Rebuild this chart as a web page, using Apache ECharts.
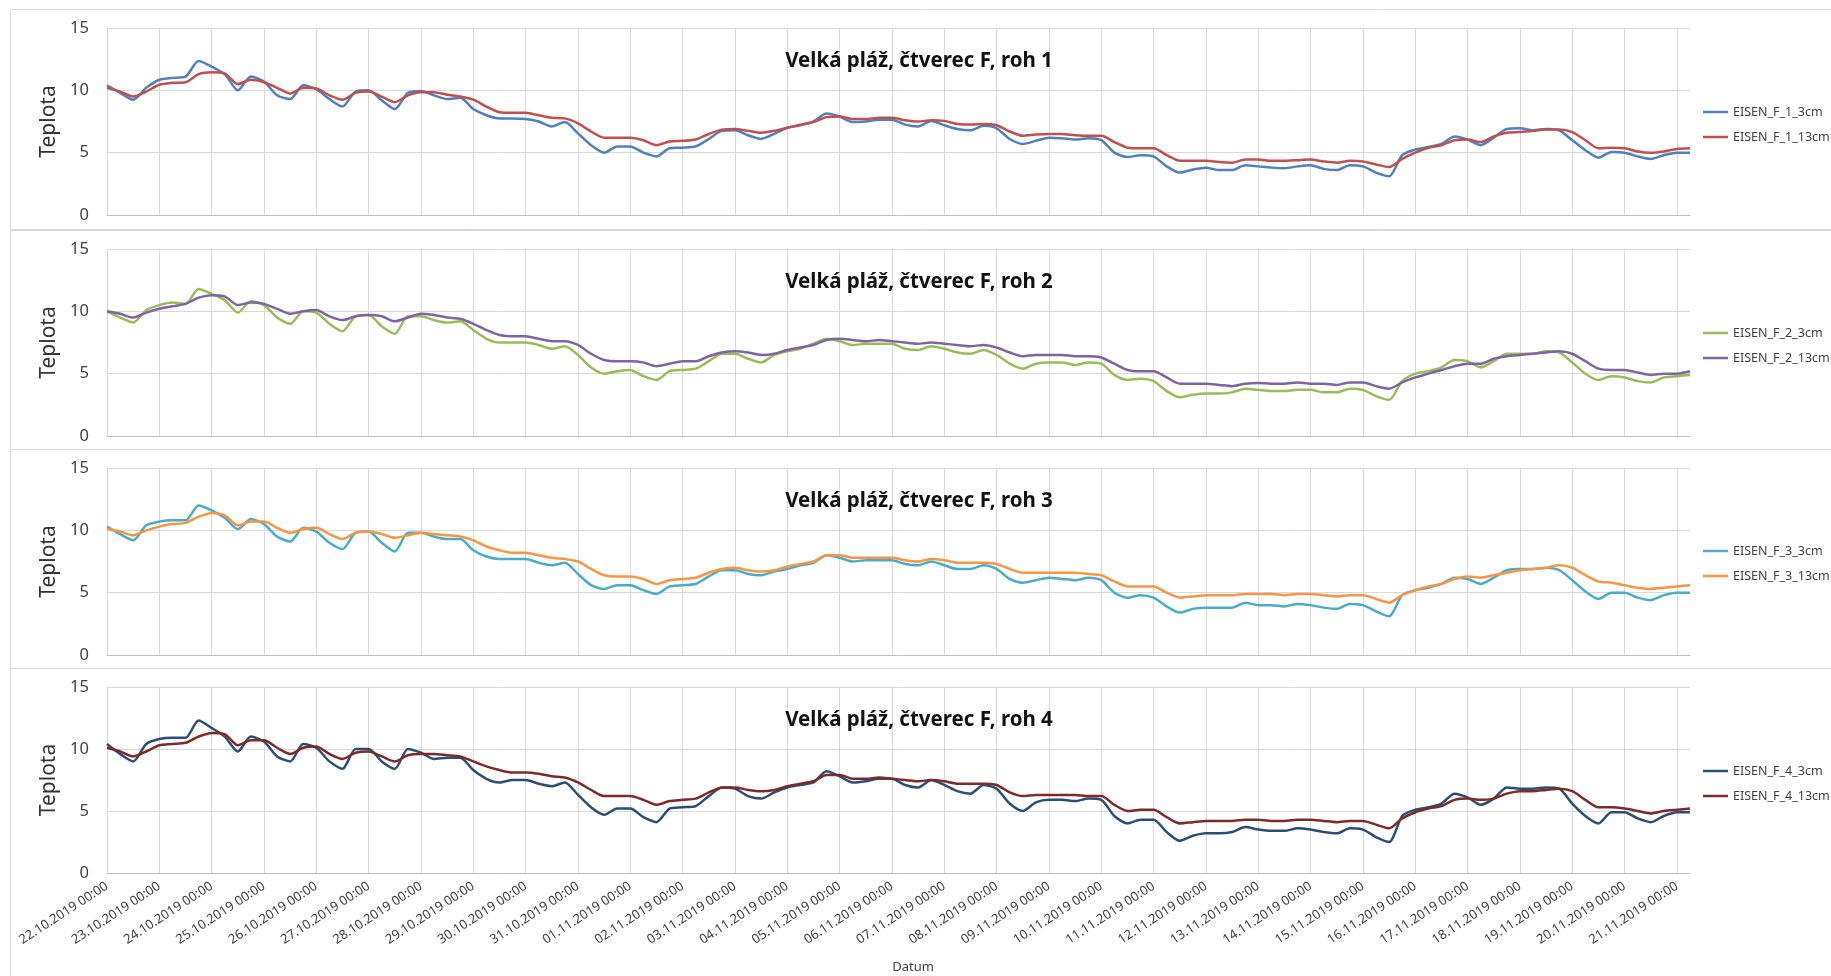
<!DOCTYPE html>
<html>
<head>
<meta charset="utf-8">
<title>Velká pláž, čtverec F</title>
<script src="https://cdn.jsdelivr.net/npm/echarts@6/dist/echarts.min.js"></script>
<style>
  html, body { margin: 0; padding: 0; background: #fff; }
  #chart { width: 1831px; height: 976px; }
</style>
</head>
<body>
<div id="chart"></div>
<script>
// one tick per day, samples every 6 hours (0.25 day)
const dayLabels = [
  '22.10.2019 00:00', '23.10.2019 00:00', '24.10.2019 00:00', '25.10.2019 00:00',
  '26.10.2019 00:00', '27.10.2019 00:00', '28.10.2019 00:00', '29.10.2019 00:00',
  '30.10.2019 00:00', '31.10.2019 00:00', '01.11.2019 00:00', '02.11.2019 00:00',
  '03.11.2019 00:00', '04.11.2019 00:00', '05.11.2019 00:00', '06.11.2019 00:00',
  '07.11.2019 00:00', '08.11.2019 00:00', '09.11.2019 00:00', '10.11.2019 00:00',
  '11.11.2019 00:00', '12.11.2019 00:00', '13.11.2019 00:00', '14.11.2019 00:00',
  '15.11.2019 00:00', '16.11.2019 00:00', '17.11.2019 00:00', '18.11.2019 00:00',
  '19.11.2019 00:00', '20.11.2019 00:00', '21.11.2019 00:00'
];
const stepDays = 0.25;

const f1_3cm = [
  10.4, 9.8, 9.25, 10.2,  10.85, 11.0, 11.1, 12.35,  11.9, 11.3, 10.0, 11.1,  10.7, 9.6, 9.3, 10.4,
  10.1, 9.3, 8.7, 9.9,  10.0, 9.2, 8.5, 9.8,  9.95, 9.6, 9.3, 9.4,  8.5, 8.0, 7.75, 7.75,
  7.7, 7.5, 7.1, 7.45,  6.55, 5.6, 5.0, 5.5,  5.5, 5.0, 4.7, 5.35,  5.4, 5.5, 6.1, 6.75,
  6.8, 6.4, 6.1, 6.5,  7.0, 7.2, 7.5, 8.15,  7.9, 7.45, 7.5, 7.65,  7.65, 7.25, 7.1, 7.55,
  7.2, 6.9, 6.8, 7.15,  6.95, 6.1, 5.7, 5.95,  6.2, 6.15, 6.05, 6.15,  6.0, 5.0, 4.65, 4.8,
  4.7, 3.9, 3.4, 3.65,  3.8, 3.6, 3.6, 4.0,  3.9, 3.8, 3.75, 3.9,  4.0, 3.7, 3.6, 4.0,
  3.9, 3.4, 3.1, 4.8,  5.25, 5.45, 5.7, 6.3,  6.05, 5.6, 6.2, 6.9,  6.95, 6.8, 6.9, 6.8,
  6.0, 5.2, 4.6, 5.05,  5.0, 4.7, 4.5, 4.8,  5.0, 5.0
];
const f1_13cm = [
  10.2, 9.9, 9.5, 9.9,  10.45, 10.6, 10.65, 11.3,  11.45, 11.35, 10.5, 10.85,  10.65, 10.2, 9.75, 10.2,
  10.15, 9.6, 9.25, 9.8,  9.9, 9.5, 9.05, 9.6,  9.85, 9.85, 9.65, 9.5,  9.25, 8.7, 8.25, 8.2,
  8.2, 8.0, 7.8, 7.75,  7.35, 6.7, 6.2, 6.2,  6.2, 6.0, 5.6, 5.9,  5.95, 6.05, 6.5, 6.85,
  6.9, 6.75, 6.6, 6.75,  7.0, 7.25, 7.45, 7.85,  7.9, 7.7, 7.7, 7.8,  7.8, 7.6, 7.5, 7.6,
  7.55, 7.3, 7.25, 7.3,  7.2, 6.7, 6.35, 6.45,  6.5, 6.5, 6.4, 6.35,  6.35, 5.85, 5.4, 5.35,
  5.35, 4.8, 4.35, 4.35,  4.35, 4.25, 4.2, 4.45,  4.45, 4.35, 4.35, 4.4,  4.45, 4.3, 4.2, 4.35,
  4.3, 4.05, 3.85, 4.5,  5.0, 5.4, 5.6, 6.0,  6.05, 5.85, 6.3, 6.6,  6.65, 6.75, 6.85, 6.85,
  6.65, 6.0, 5.35, 5.4,  5.35, 5.1, 5.0, 5.1,  5.3, 5.35
];
const f2_3cm = [
  10.0, 9.5, 9.1, 10.1,  10.5, 10.7, 10.6, 11.8,  11.4, 10.9, 9.9, 10.8,  10.5, 9.5, 9.0, 10.0,
  9.9, 9.0, 8.4, 9.6,  9.7, 8.8, 8.2, 9.6,  9.6, 9.3, 9.1, 9.2,  8.5, 7.8, 7.5, 7.5,
  7.5, 7.3, 7.0, 7.2,  6.5, 5.5, 5.0, 5.2,  5.3, 4.8, 4.5, 5.2,  5.3, 5.4, 6.0, 6.6,
  6.6, 6.2, 5.9, 6.5,  6.8, 7.0, 7.4, 7.8,  7.6, 7.3, 7.4, 7.4,  7.4, 7.0, 6.9, 7.2,
  7.0, 6.7, 6.6, 6.9,  6.5, 5.8, 5.4, 5.8,  5.9, 5.9, 5.7, 5.9,  5.8, 4.9, 4.5, 4.6,
  4.4, 3.6, 3.1, 3.3,  3.4, 3.4, 3.5, 3.8,  3.7, 3.6, 3.6, 3.7,  3.7, 3.5, 3.5, 3.8,
  3.7, 3.2, 2.9, 4.4,  5.0, 5.2, 5.5, 6.1,  6.0, 5.5, 6.0, 6.6,  6.6, 6.6, 6.8, 6.7,
  5.9, 5.0, 4.5, 4.8,  4.7, 4.4, 4.3, 4.7,  4.8, 4.9
];
const f2_13cm = [
  10.0, 9.8, 9.5, 9.9,  10.2, 10.4, 10.6, 11.1,  11.3, 11.2, 10.5, 10.7,  10.6, 10.2, 9.8, 10.0,
  10.1, 9.6, 9.3, 9.6,  9.7, 9.6, 9.2, 9.5,  9.8, 9.7, 9.5, 9.4,  9.0, 8.5, 8.1, 8.0,
  8.0, 7.8, 7.6, 7.6,  7.3, 6.6, 6.1, 6.0,  6.0, 5.9, 5.6, 5.8,  6.0, 6.0, 6.4, 6.7,
  6.8, 6.7, 6.5, 6.6,  6.9, 7.1, 7.3, 7.7,  7.8, 7.7, 7.6, 7.7,  7.6, 7.5, 7.4, 7.5,
  7.4, 7.3, 7.2, 7.3,  7.1, 6.7, 6.4, 6.5,  6.5, 6.5, 6.4, 6.4,  6.3, 5.8, 5.3, 5.2,
  5.2, 4.7, 4.2, 4.2,  4.2, 4.1, 4.0, 4.2,  4.25, 4.2, 4.2, 4.3,  4.2, 4.2, 4.1, 4.3,
  4.3, 4.0, 3.8, 4.3,  4.7, 5.0, 5.3, 5.6,  5.8, 5.8, 6.2, 6.4,  6.5, 6.6, 6.7, 6.8,
  6.6, 6.0, 5.4, 5.3,  5.3, 5.1, 4.9, 5.0,  5.0, 5.2
];
const f3_3cm = [
  10.3, 9.7, 9.2, 10.4,  10.7, 10.8, 10.8, 12.0,  11.6, 11.0, 10.1, 10.9,  10.5, 9.5, 9.1, 10.2,
  9.9, 9.0, 8.5, 9.8,  9.9, 9.0, 8.3, 9.8,  9.8, 9.5, 9.3, 9.3,  8.4, 7.9, 7.7, 7.7,
  7.7, 7.4, 7.2, 7.4,  6.5, 5.6, 5.3, 5.6,  5.6, 5.2, 4.9, 5.5,  5.6, 5.7, 6.3, 6.8,
  6.8, 6.5, 6.4, 6.7,  6.9, 7.2, 7.4, 8.0,  7.8, 7.5, 7.6, 7.6,  7.6, 7.3, 7.2, 7.5,
  7.2, 6.9, 6.9, 7.2,  6.9, 6.1, 5.8, 6.0,  6.2, 6.1, 6.0, 6.2,  6.0, 5.0, 4.6, 4.8,
  4.6, 3.9, 3.4, 3.7,  3.8, 3.8, 3.8, 4.2,  4.0, 4.0, 3.9, 4.1,  4.0, 3.8, 3.7, 4.1,
  4.0, 3.5, 3.1, 4.8,  5.2, 5.4, 5.7, 6.2,  6.1, 5.7, 6.2, 6.8,  6.9, 6.9, 7.0, 6.8,
  6.0, 5.1, 4.5, 5.0,  5.0, 4.6, 4.4, 4.8,  5.0, 5.0
];
const f3_13cm = [
  10.1, 9.9, 9.6, 10.0,  10.3, 10.5, 10.6, 11.1,  11.4, 11.2, 10.4, 10.7,  10.7, 10.2, 9.8, 10.1,
  10.2, 9.7, 9.3, 9.8,  9.9, 9.7, 9.4, 9.6,  9.8, 9.7, 9.6, 9.5,  9.2, 8.7, 8.4, 8.2,
  8.2, 8.0, 7.8, 7.7,  7.5, 6.9, 6.4, 6.3,  6.3, 6.1, 5.7, 6.0,  6.1, 6.2, 6.6, 6.9,
  7.0, 6.8, 6.7, 6.8,  7.1, 7.3, 7.5, 8.0,  8.0, 7.8, 7.8, 7.8,  7.8, 7.6, 7.5, 7.7,
  7.6, 7.4, 7.4, 7.4,  7.3, 6.9, 6.6, 6.6,  6.6, 6.6, 6.6, 6.5,  6.4, 5.9, 5.5, 5.5,
  5.5, 5.0, 4.6, 4.7,  4.8, 4.8, 4.8, 4.9,  4.9, 4.9, 4.8, 4.9,  4.9, 4.8, 4.7, 4.8,
  4.8, 4.5, 4.2, 4.8,  5.2, 5.5, 5.7, 6.1,  6.3, 6.2, 6.4, 6.6,  6.8, 6.9, 7.0, 7.2,
  7.0, 6.4, 5.9, 5.8,  5.6, 5.4, 5.3, 5.4,  5.5, 5.6
];
const f4_3cm = [
  10.4, 9.6, 9.0, 10.4,  10.8, 10.9, 10.9, 12.3,  11.7, 11.0, 9.8, 11.0,  10.6, 9.4, 9.0, 10.4,
  10.1, 9.0, 8.4, 10.0,  10.0, 9.0, 8.4, 10.0,  9.7, 9.2, 9.3, 9.3,  8.3, 7.6, 7.3, 7.5,
  7.5, 7.2, 7.0, 7.3,  6.3, 5.3, 4.7, 5.2,  5.2, 4.5, 4.1, 5.2,  5.3, 5.4, 6.2, 6.9,
  6.8, 6.2, 6.0, 6.5,  6.9, 7.1, 7.3, 8.2,  7.8, 7.3, 7.4, 7.6,  7.6, 7.1, 6.9, 7.5,
  7.1, 6.6, 6.4, 7.1,  6.8, 5.6, 5.0, 5.7,  5.9, 5.9, 5.8, 6.0,  5.9, 4.6, 4.0, 4.3,
  4.3, 3.3, 2.6, 3.0,  3.2, 3.2, 3.3, 3.7,  3.5, 3.4, 3.4, 3.6,  3.5, 3.3, 3.2, 3.6,
  3.5, 2.9, 2.5, 4.6,  5.1, 5.3, 5.6, 6.4,  6.1, 5.5, 6.0, 6.9,  6.8, 6.8, 6.9, 6.8,
  5.6, 4.6, 4.0, 4.9,  4.9, 4.4, 4.1, 4.6,  4.9, 4.9
];
const f4_13cm = [
  10.1, 9.8, 9.4, 9.8,  10.3, 10.4, 10.5, 11.0,  11.3, 11.2, 10.3, 10.7,  10.7, 10.1, 9.6, 10.1,
  10.2, 9.6, 9.2, 9.7,  9.8, 9.4, 9.0, 9.5,  9.6, 9.6, 9.5, 9.4,  9.0, 8.6, 8.3, 8.1,
  8.1, 8.0, 7.8, 7.7,  7.3, 6.7, 6.2, 6.2,  6.2, 5.9, 5.5, 5.8,  5.9, 6.0, 6.5, 6.9,
  6.9, 6.7, 6.6, 6.7,  7.0, 7.2, 7.4, 7.9,  7.9, 7.6, 7.6, 7.7,  7.6, 7.5, 7.4, 7.5,
  7.4, 7.2, 7.2, 7.2,  7.1, 6.5, 6.2, 6.3,  6.3, 6.3, 6.3, 6.2,  6.2, 5.5, 5.0, 5.1,
  5.1, 4.5, 4.0, 4.1,  4.2, 4.2, 4.2, 4.3,  4.3, 4.2, 4.2, 4.3,  4.3, 4.2, 4.1, 4.2,
  4.2, 3.9, 3.6, 4.4,  4.9, 5.2, 5.4, 5.9,  6.0, 5.9, 6.0, 6.4,  6.6, 6.6, 6.7, 6.8,
  6.6, 5.9, 5.3, 5.3,  5.2, 5.0, 4.8, 5.0,  5.1, 5.2
];

const panels = [
  { title: 'Velká pláž, čtverec F, roh 1', top: 28, names: ['EISEN_F_1_3cm', 'EISEN_F_1_13cm'], data: [f1_3cm, f1_13cm], colors: ['#4F81BD', '#C0504D'], legendTop: 100 },
  { title: 'Velká pláž, čtverec F, roh 2', top: 249, names: ['EISEN_F_2_3cm', 'EISEN_F_2_13cm'], data: [f2_3cm, f2_13cm], colors: ['#9BBB59', '#8064A2'], legendTop: 321 },
  { title: 'Velká pláž, čtverec F, roh 3', top: 468, names: ['EISEN_F_3_3cm', 'EISEN_F_3_13cm'], data: [f3_3cm, f3_13cm], colors: ['#4BACC6', '#F79646'], legendTop: 539 },
  { title: 'Velká pláž, čtverec F, roh 4', top: 687, names: ['EISEN_F_4_3cm', 'EISEN_F_4_13cm'], data: [f4_3cm, f4_13cm], colors: ['#2C4D75', '#7B2C2A'], legendTop: 759 }
];
const boxTops = [9, 230, 449, 668];
const boxBottoms = [229, 449, 668, 990];

const font = '"Noto Sans", "Open Sans", sans-serif';
const toPoints = (arr) => arr.map((v, i) => [i * stepDays, v]);
const lastDay = (f1_3cm.length - 1) * stepDays;

const chart = echarts.init(document.getElementById('chart'));

const options = {
  backgroundColor: '#ffffff',
  animation: false,
  textStyle: { fontFamily: font },
  title: panels.map((p) => ({
    text: p.title,
    left: 914,
    top: p.top + 28,
    textAlign: 'center',
    textVerticalAlign: 'middle',
    textStyle: { fontFamily: font, fontSize: 20.5, fontWeight: 'bold', color: '#111' }
  })),
  legend: panels.map((p) => ({
    data: p.names,
    orient: 'vertical',
    left: 1698,
    top: p.legendTop,
    icon: 'rect',
    itemWidth: 25,
    itemHeight: 2.5,
    itemGap: 11,
    textStyle: { fontFamily: font, fontSize: 12.5, lineHeight: 14, color: '#404040' }
  })),
  grid: panels.map((p, i) => ({
    left: 107,
    width: 1583,
    top: p.top,
    height: i === 3 ? 186 : 187
  })),
  xAxis: panels.map((p, i) => ({
    type: 'value',
    gridIndex: i,
    min: 0,
    max: lastDay,
    interval: 1,
    name: i === 3 ? 'Datum' : '',
    nameLocation: 'middle',
    nameGap: 88,
    nameTextStyle: { fontFamily: font, fontSize: 13, color: '#404040', padding: [0, 0, 0, 29] },
    axisLine: { show: true, lineStyle: { color: '#BFBFBF', width: 1 } },
    axisTick: { show: false },
    splitLine: { show: true, showMaxLine: false, lineStyle: { color: '#D9D9D9', width: 1 } },
    axisLabel: {
      show: i === 3,
      rotate: 33,
      margin: 12,
      fontSize: 13,
      color: '#404040',
      showMaxLabel: false,
      formatter: (v) => dayLabels[Math.round(v)] || ''
    }
  })),
  yAxis: panels.map((p, i) => ({
    type: 'value',
    gridIndex: i,
    min: 0,
    max: 15,
    interval: 5,
    name: 'Teplota',
    nameLocation: 'middle',
    nameGap: 40,
    nameTextStyle: { fontFamily: font, fontSize: 21, color: '#333' },
    axisLine: { show: false },
    axisTick: { show: false },
    splitLine: { show: true, lineStyle: { color: '#D9D9D9', width: 1 } },
    axisLabel: { fontSize: 16.5, color: '#404040', margin: 18 }
  })),
  series: [],
  graphic: boxTops.map((t, i) => ({
    type: 'rect',
    silent: true,
    z: -10,
    shape: { x: 10.5, y: t + 0.5, width: 1900, height: boxBottoms[i] - t },
    style: { fill: 'none', stroke: '#D9D9D9', lineWidth: 1 }
  }))
};

panels.forEach((p, i) => {
  p.names.forEach((name, k) => {
    options.series.push({
      name: name,
      type: 'line',
      xAxisIndex: i,
      yAxisIndex: i,
      symbol: 'none',
      smooth: 0.25,
      lineStyle: { width: 2.5, color: p.colors[k] },
      itemStyle: { color: p.colors[k] },
      data: toPoints(p.data[k])
    });
  });
});

chart.setOption(options);
</script>
</body>
</html>
